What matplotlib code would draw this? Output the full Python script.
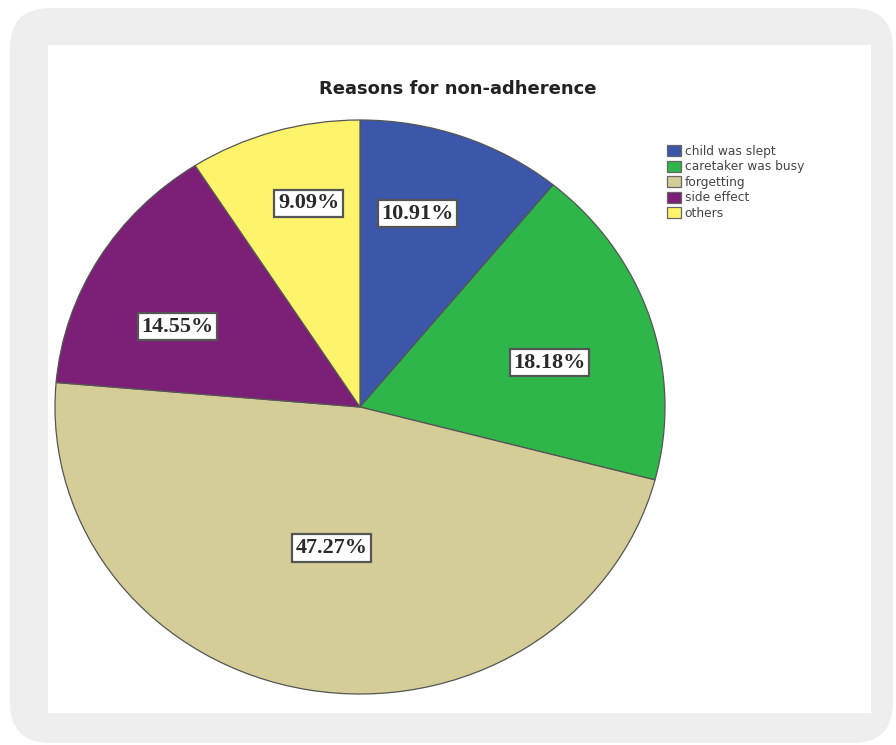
import matplotlib
matplotlib.use("Agg")
import matplotlib.pyplot as plt
from matplotlib.patches import FancyBboxPatch, Rectangle
import numpy as np

title = "Reasons for non-adherence"
categories = ["child was slept", "caretaker was busy", "forgetting", "side effect", "others"]
values = [10.91, 18.18, 47.27, 14.55, 9.09]
colors = ["#3c56a9", "#2eb64a", "#d4cd97", "#7c1f76", "#fdf46b"]
label_radius = [0.70, 0.64, 0.50, 0.66, 0.73]
label_angle_shift = [4, -4, -1, 6, -3]

W, H = 896, 745
fig = plt.figure(figsize=(W / 100, H / 100), dpi=100)
fig.patch.set_facecolor("white")

# background card
bg = FancyBboxPatch((10 / W, 2 / H), 883 / W, 735 / H,
                    boxstyle="round,pad=0,rounding_size=0.045",
                    transform=fig.transFigure, facecolor="#eeeeee",
                    edgecolor="none", mutation_aspect=W / H, zorder=-2)
fig.patches.append(bg)
panel = Rectangle((48 / W, (H - 713) / H), (871 - 48) / W, (713 - 45) / H,
                  transform=fig.transFigure, facecolor="white", edgecolor="none",
                  zorder=-1)
fig.patches.append(panel)

# pie axes: center (360,407), rx 305, ry 287
cx, cy, rx, ry = 360, 407, 305, 287
ax = fig.add_axes([(cx - rx) / W, (H - cy - ry) / H, 2 * rx / W, 2 * ry / H])
ax.set_zorder(1)
wedges, _ = ax.pie(values, colors=colors, startangle=90, counterclock=False,
                   radius=1, wedgeprops=dict(edgecolor="#555555", linewidth=0.9))
ax.set_aspect("auto")
ax.set_xlim(-1, 1)
ax.set_ylim(-1, 1)
ax.axis("off")

for w, v, r, s in zip(wedges, values, label_radius, label_angle_shift):
    ang = np.deg2rad((w.theta1 + w.theta2) / 2 + s)
    ax.text(r * np.cos(ang), r * np.sin(ang), f"{v:.2f}%",
            ha="center", va="center", fontsize=16, fontweight="bold",
            family="Liberation Serif", color="#2a2a2a",
            bbox=dict(boxstyle="square,pad=0.16", facecolor="white",
                      edgecolor="#555555", linewidth=1.6))

fig.text(458 / W, 1 - 89 / H, title, ha="center", va="center",
         fontsize=13, fontweight="bold", family="DejaVu Sans", color="#222222")

handles = [Rectangle((0, 0), 1, 1, facecolor=c, edgecolor="#666666", linewidth=0.9)
           for c in colors]
leg = fig.legend(handles, categories, loc="upper left",
                 bbox_to_anchor=(667 / W, 1 - 145 / H), frameon=False,
                 prop=dict(family="DejaVu Sans", size=8.8),
                 handlelength=1.15, handleheight=1.0, handletextpad=0.3,
                 labelspacing=0.2, borderaxespad=0, borderpad=0)
for t in leg.get_texts():
    t.set_color("#444444")

fig.savefig("out.png", dpi=100)
